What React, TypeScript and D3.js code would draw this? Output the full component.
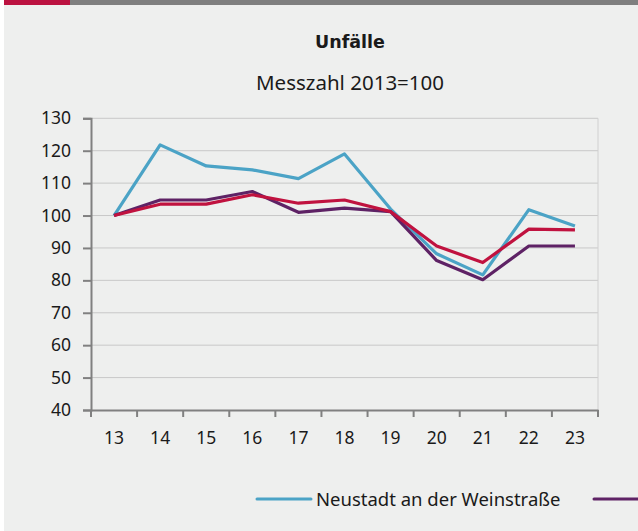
import * as d3 from "d3";
import { useEffect, useRef } from "react";

const years = ["13", "14", "15", "16", "17", "18", "19", "20", "21", "22", "23"];
const neustadt = [100, 121.8, 115.3, 114.1, 111.4, 119.0, 102.0, 88.2, 81.7, 101.8, 96.8];
const purpleSeries = [100, 104.8, 104.8, 107.4, 101.0, 102.3, 101.2, 86.1, 80.2, 90.6, 90.6];
const redSeries = [100, 103.5, 103.5, 106.4, 103.8, 104.8, 101.2, 90.6, 85.5, 95.8, 95.6];
const yTicks = [40, 50, 60, 70, 80, 90, 100, 110, 120, 130];
const seriesNames = ["Neustadt an der Weinstraße", "Kreisfreie Städte", "Rheinland-Pfalz"];

const W = 638;
const H = 531;
const font = "'Noto Sans', 'Open Sans', sans-serif";

const drawChart = (svgEl) => {
    const svg = d3.select(svgEl);
    svg.selectAll("*").remove();

    const plot = { x1: 91, x2: 598, y1: 118.3, y2: 410 };

    // Hintergrund
    svg.append("rect").attr("width", W).attr("height", H).attr("fill", "#ffffff");
    svg.append("rect").attr("x", 4).attr("y", 0).attr("width", W - 4).attr("height", H).attr("fill", "#eeefee");
    svg.append("rect").attr("x", 4).attr("y", 0).attr("width", 66).attr("height", 5).attr("fill", "#bb1240");
    svg.append("rect").attr("x", 70).attr("y", 0).attr("width", W - 70).attr("height", 5).attr("fill", "#7f7f7f");

    svg.append("text")
        .attr("x", 350).attr("y", 47.7)
        .attr("text-anchor", "middle")
        .style("font-family", "'DejaVu Sans', sans-serif")
        .style("font-weight", "bold")
        .style("font-size", "17.5px")
        .attr("fill", "#1a1a1a")
        .text("Unfälle");

    svg.append("text")
        .attr("x", 350).attr("y", 90)
        .attr("text-anchor", "middle")
        .style("font-family", font)
        .style("font-size", "20.5px")
        .attr("fill", "#1a1a1a")
        .text("Messzahl 2013=100");

    const xScale = d3.scaleBand().domain(years).range([plot.x1, plot.x2]);
    const yScale = d3.scaleLinear().domain([40, 130]).range([plot.y2, plot.y1]);

    // Gitterlinien
    svg.append("g").selectAll("line")
        .data(yTicks.filter(v => v > 40))
        .enter().append("line")
        .attr("x1", plot.x1).attr("x2", plot.x2)
        .attr("y1", d => yScale(d)).attr("y2", d => yScale(d))
        .attr("stroke", "#c8c8c8").attr("stroke-width", 1);
    svg.append("line")
        .attr("x1", plot.x2).attr("x2", plot.x2)
        .attr("y1", plot.y1).attr("y2", plot.y2)
        .attr("stroke", "#d0d0d0");

    // y-Achse
    const axisY = d3.axisLeft(yScale).tickValues(yTicks).tickSize(8).tickPadding(12);
    const gy = svg.append("g").attr("transform", `translate(${plot.x1},0)`).call(axisY);
    gy.select(".domain").attr("stroke", "#808080").attr("stroke-width", 2);
    gy.selectAll(".tick line").attr("stroke", "#808080").attr("stroke-width", 2);
    gy.selectAll(".tick text").attr("fill", "#1a1a1a").style("font-family", font).style("font-size", "17.5px");

    // x-Achse
    const axisX = d3.axisBottom(xScale).tickSize(0).tickPadding(22);
    const gx = svg.append("g").attr("transform", `translate(0,${plot.y2})`).call(axisX);
    gx.select(".domain").attr("stroke", "#808080").attr("stroke-width", 2);
    gx.selectAll(".tick text").attr("fill", "#1a1a1a").style("font-family", font).style("font-size", "17.5px");
    const bounds = years.map(y => xScale(y)).concat([plot.x2]);
    gx.selectAll(".bound").data(bounds).enter().append("line")
        .attr("x1", d => d).attr("x2", d => d)
        .attr("y1", 0).attr("y2", 7)
        .attr("stroke", "#808080").attr("stroke-width", 2);

    const line = d3.line()
        .x((d, i) => xScale(years[i]) + xScale.bandwidth() / 2)
        .y(d => yScale(d));

    const series = [
        { values: neustadt, color: "#4ba3c6" },
        { values: purpleSeries, color: "#5e2265" },
        { values: redSeries, color: "#c0123f" },
    ];
    series.forEach(s => {
        svg.append("path")
            .attr("d", line(s.values))
            .attr("fill", "none")
            .attr("stroke", s.color)
            .attr("stroke-width", 3.2)
            .attr("stroke-linejoin", "round");
    });

    // Legende
    const ly = 499;
    svg.append("line").attr("x1", 257).attr("x2", 311).attr("y1", ly).attr("y2", ly)
        .attr("stroke", series[0].color).attr("stroke-width", 3).attr("stroke-linecap", "round");
    svg.append("text").attr("x", 316).attr("y", 506)
        .style("font-family", font).style("font-size", "18.5px").attr("fill", "#1a1a1a")
        .text(seriesNames[0]);
    svg.append("line").attr("x1", 594).attr("x2", 650).attr("y1", ly).attr("y2", ly)
        .attr("stroke", series[1].color).attr("stroke-width", 3).attr("stroke-linecap", "round");
};

export default function App() {
    const ref = useRef(null);
    useEffect(() => {
        drawChart(ref.current);
    }, []);
    return (
        <div style={{ position: "absolute", left: 0, top: 0, width: W, height: H, overflow: "hidden" }}>
            <svg ref={ref} width={W} height={H} />
        </div>
    );
}
